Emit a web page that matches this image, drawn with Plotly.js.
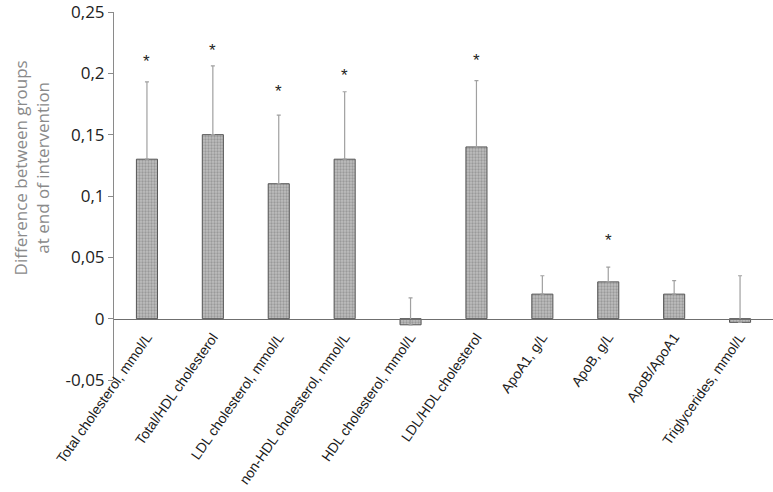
<!DOCTYPE html>
<html lang="en">
  <head>
    <meta charset="UTF-8" />
    <script src="https://cdn.jsdelivr.net/npm/plotly.js-dist-min/plotly.min.js"></script>
    <style>
      body { margin: 0; background: #fff; }
    </style>
  </head>
  <body>
    <div id="chart" style="width: 773px; height: 492px;"></div>
    <script>
      // categories and values
      const categories = [
        'Total cholesterol, mmol/L',
        'Total/HDL cholesterol',
        'LDL cholesterol, mmol/L',
        'non-HDL cholesterol, mmol/L',
        'HDL cholesterol, mmol/L',
        'LDL/HDL cholesterol',
        'ApoA1, g/L',
        'ApoB, g/L',
        'ApoB/ApoA1',
        'Triglycerides, mmol/L'
      ];
      const differences = [0.13, 0.15, 0.11, 0.13, -0.005, 0.14, 0.02, 0.03, 0.02, -0.003];
      const upperError = [0.063, 0.056, 0.056, 0.055, 0.022, 0.054, 0.015, 0.012, 0.011, 0.038];
      // height of the significance star (null = no star)
      const starLevel = [0.212, 0.221, 0.188, 0.201, null, 0.213, null, 0.066, null, null];

      const yTickVals = [-0.05, 0, 0.05, 0.1, 0.15, 0.2, 0.25];
      const yTickText = ['-0,05', '0', '0,05', '0,1', '0,15', '0,2', '0,25'];
      const yRange = [-0.05, 0.25];

      const bars = {
        type: 'bar',
        x: categories,
        y: differences,
        width: 0.32,
        marker: {
          color: '#b9b9b9',
          line: { color: '#555', width: 1 },
          pattern: { shape: '.', fgcolor: '#999999', bgcolor: '#bebebe', size: 3, solidity: 0.45 }
        },
        error_y: {
          type: 'data',
          symmetric: false,
          array: upperError,
          arrayminus: differences.map(() => 0),
          color: '#a0a0a0',
          thickness: 1.2,
          width: 2
        },
        hoverinfo: 'x+y'
      };

      const notes = [];
      starLevel.forEach((lvl, i) => {
        if (lvl === null) return;
        notes.push({
          x: categories[i],
          y: lvl,
          text: '*',
          showarrow: false,
          xanchor: 'center',
          yanchor: 'middle',
          yshift: -3,
          font: { family: 'Liberation Sans, Arial, sans-serif', size: 17, color: '#222' }
        });
      });

      // y axis title placed by hand (it sits a bit above the plot centre)
      notes.push({
        xref: 'paper',
        yref: 'paper',
        x: 0,
        y: 0.575,
        xanchor: 'center',
        yanchor: 'middle',
        xshift: -83,
        textangle: -90,
        showarrow: false,
        text: 'Difference between groups<br>at end of intervention',
        font: { family: 'Open Sans, sans-serif', size: 17, color: '#8a8a8a' }
      });

      // x axis sits on the zero line, like the original
      const zeroPos = (0 - yRange[0]) / (yRange[1] - yRange[0]);

      const layout = {
        width: 773,
        height: 492,
        margin: { l: 114, r: 0, t: 12, b: 112 },
        paper_bgcolor: '#fff',
        plot_bgcolor: '#fff',
        showlegend: false,
        annotations: notes,
        xaxis: {
          anchor: 'free',
          position: zeroPos,
          showline: true,
          linecolor: '#6f6f6f',
          linewidth: 1,
          ticks: '',
          showgrid: false,
          zeroline: false,
          tickangle: -55,
          ticklabelstandoff: 4,
          automargin: false,
          tickfont: { family: 'Liberation Sans, Arial, sans-serif', size: 14, color: '#1a1a1a' }
        },
        yaxis: {
          range: yRange,
          tickvals: yTickVals,
          ticktext: yTickText,
          showline: true,
          linecolor: '#8a8a8a',
          linewidth: 1,
          ticks: 'outside',
          ticklen: 5,
          tickcolor: '#8a8a8a',
          showgrid: false,
          zeroline: false,
          automargin: false,
          ticklabeloverflow: 'allow',
          tickfont: { family: 'Open Sans, sans-serif', size: 17, color: '#222' }
        }
      };

      Plotly.newPlot('chart', [bars], layout, { displayModeBar: false, staticPlot: true });
    </script>
  </body>
</html>
